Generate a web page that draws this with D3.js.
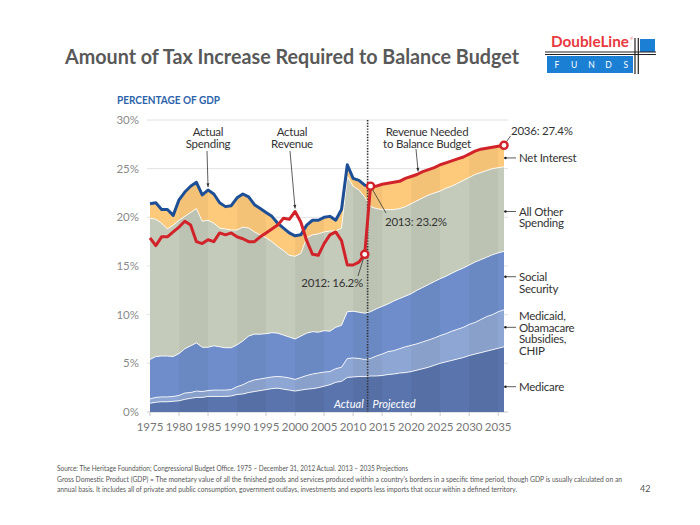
<!DOCTYPE html>
<html><head><meta charset="utf-8">
<script src="https://cdn.jsdelivr.net/npm/d3@7"></script>
<style>body{margin:0;background:#fff}svg{display:block}text{font-family:Lato,"Open Sans",sans-serif}</style>
</head><body><svg id="c" width="700" height="525"></svg>
<script>
// ---------- DATA (percent of GDP) ----------
const years = d3.range(1975, 2037); // 1975 .. 2036
const medicare = [0.9,1.0,1.05,1.05,1.1,1.15,1.3,1.4,1.5,1.5,
  1.6,1.6,1.6,1.6,1.65,1.8,1.85,2.0,2.1,2.2,
  2.3,2.4,2.45,2.35,2.25,2.15,2.25,2.35,2.4,2.5,
  2.65,2.8,3.05,3.15,3.55,3.6,3.65,3.65,3.7,3.7,
  3.75,3.85,3.9,4.0,4.05,4.15,4.3,4.45,4.6,4.8,
  5.0,5.15,5.3,5.45,5.6,5.8,5.95,6.1,6.25,6.4,
  6.55,6.7];
const medicaid = [0.45,0.5,0.5,0.5,0.5,0.55,0.65,0.6,0.65,0.6,
  0.6,0.65,0.65,0.65,0.65,0.8,0.95,1.1,1.2,1.2,
  1.2,1.2,1.2,1.25,1.25,1.2,1.3,1.4,1.5,1.5,
  1.45,1.35,1.4,1.45,1.95,1.95,1.85,1.75,1.8,2.05,
  2.2,2.35,2.4,2.5,2.65,2.7,2.7,2.75,2.8,2.8,
  2.85,2.9,3.0,3.05,3.1,3.2,3.25,3.4,3.55,3.6,
  3.75,3.8];
const socialSecurity = [4.05,4.2,4.2,4.2,4.1,4.3,4.55,4.8,4.95,4.55,
  4.45,4.55,4.45,4.35,4.3,4.3,4.5,4.7,4.7,4.6,
  4.55,4.55,4.45,4.3,4.2,4.15,4.25,4.35,4.35,4.2,
  4.25,4.15,4.25,4.3,4.8,4.8,4.75,4.75,4.8,4.85,
  4.9,4.9,5.1,5.15,5.2,5.3,5.5,5.6,5.7,5.8,
  5.85,5.9,5.95,6.05,6.1,6.1,6.2,6.15,6.1,6.15,
  6.05,6.0];
const allOther = [14.5,14.1,13.65,13.05,13.5,13.7,13.6,13.7,13.8,12.95,
  13.05,12.6,12.2,12.2,12.1,11.8,11.7,11.1,10.5,10.2,
  9.85,9.35,8.9,8.7,8.4,8.5,8.5,9.8,9.95,10.1,
  10.15,10.3,9.9,10.0,13.9,12.85,12.55,11.95,10.8,10.3,
  9.95,9.7,9.4,9.25,9.2,9.25,9.2,9.2,9.2,9.1,
  9.0,9.05,8.95,8.95,9.0,9.0,9.0,8.95,8.9,8.85,
  8.75,8.7];
const netInterest = [1.5,1.7,1.4,2.0,1.0,2.1,2.5,2.7,2.7,2.7,
  3.1,3.0,2.6,2.3,2.5,3.3,3.4,3.2,2.8,2.7,
  2.6,2.6,2.4,2.3,2.3,2.1,1.9,1.3,1.5,1.4,
  1.5,1.5,1.1,1.9,1.2,0.8,1.0,1.2,2.1,2.3,
  2.6,2.7,2.8,2.8,2.9,2.8,2.7,2.7,2.6,2.6,
  2.7,2.6,2.6,2.5,2.4,2.4,2.4,2.4,2.3,2.2,
  2.2,2.2];
const revenueYears = d3.range(1975, 2013); // actual revenue 1975 .. 2012
const actualRevenue = [17.9,17.1,18.0,18.0,18.5,19.0,19.6,19.2,17.5,17.3,
  17.7,17.5,18.4,18.2,18.4,18.0,17.8,17.5,17.5,18.0,
  18.4,18.8,19.2,19.9,19.8,20.6,19.5,17.6,16.2,16.1,
  17.3,18.2,18.5,17.6,15.1,15.1,15.4,16.2];
const yTicks = [0,5,10,15,20,25,30];
const xTicks = [1975,1980,1985,1990,1995,2000,2005,2010,2015,2020,2025,2030,2035];
const layerKeys = ["medicare","medicaid","socialSecurity","allOther","netInterest"];
const layerColors = ["#5a75ad","#8ea6d3","#6e8dca","#c4cbba","#fdca7c"];
const lastActualYear = 2012;

// ---------- SETUP ----------
const svg = d3.select("#c");
const x = d3.scaleLinear().domain([1975, 2036]).range([150, 504]);
const y = d3.scaleLinear().domain([0, 30]).range([412, 120]);

const rows = years.map((yr, i) => ({year: yr, medicare: medicare[i], medicaid: medicaid[i],
  socialSecurity: socialSecurity[i], allOther: allOther[i], netInterest: netInterest[i]}));
const stacked = d3.stack().keys(layerKeys)(rows);
const stackTop = stacked[stacked.length - 1];
const totalOf = yr => stackTop[years.indexOf(yr)][1];

// Title
svg.append("text").attr("x", 65).attr("y", 64).attr("font-size", 20).attr("font-weight", 700)
  .attr("fill", "#595959").attr("textLength", 454).attr("lengthAdjust", "spacingAndGlyphs")
  .text("Amount of Tax Increase Required to Balance Budget");

// Logo
const logo = svg.append("g");
logo.append("text").attr("x", 551).attr("y", 47).attr("font-size", 14.5).attr("font-weight", 700)
  .attr("fill", "#e8393f").attr("textLength", 78).attr("lengthAdjust", "spacingAndGlyphs").text("DoubleLine");
logo.append("text").attr("x", 630).attr("y", 40).attr("font-size", 4).attr("fill", "#e8393f").text("®");
logo.append("rect").attr("x", 547).attr("y", 56).attr("width", 86).attr("height", 17).attr("fill", "#1b7fd4");
logo.append("rect").attr("x", 640).attr("y", 39).attr("width", 15).attr("height", 13).attr("fill", "#1b7fd4");
logo.append("line").attr("x1", 545).attr("x2", 656).attr("y1", 52).attr("y2", 52).attr("stroke", "#222").attr("stroke-width", 1.2);
logo.append("line").attr("x1", 545).attr("x2", 656).attr("y1", 54.5).attr("y2", 54.5).attr("stroke", "#222").attr("stroke-width", 1.2);
logo.append("line").attr("x1", 635).attr("x2", 635).attr("y1", 38).attr("y2", 74).attr("stroke", "#222").attr("stroke-width", 1.2);
logo.append("line").attr("x1", 638.3).attr("x2", 638.3).attr("y1", 38).attr("y2", 74).attr("stroke", "#222").attr("stroke-width", 1.2);
["F","U","N","D","S"].forEach((ch, i) => {
  logo.append("text").attr("x", 557 + i * 17.2).attr("y", 68).attr("font-size", 8.5)
    .attr("fill", "#fff").attr("text-anchor", "middle").text(ch);
});

// Subtitle
svg.append("text").attr("x", 117).attr("y", 104).attr("font-size", 11).attr("font-weight", 700)
  .attr("fill", "#2c63aa").attr("textLength", 103).attr("lengthAdjust", "spacingAndGlyphs").text("PERCENTAGE OF GDP");

// Gridlines + y labels
const grid = svg.append("g");
yTicks.forEach(t => {
  grid.append("line").attr("x1", 147).attr("x2", 508).attr("y1", y(t)).attr("y2", y(t))
    .attr("stroke", t === 0 ? "#c8c8c8" : "#e2e2e2").attr("stroke-width", 1);
  grid.append("text").attr("x", 139).attr("y", y(t) + 4).attr("text-anchor", "end")
    .attr("font-size", 11.5).attr("fill", "#8a8a8a").text(t + "%");
});

// Stacked areas
const area = d3.area().x(d => x(d.data.year)).y0(d => y(d[0])).y1(d => y(d[1]));
svg.append("g").selectAll("path").data(stacked).join("path")
  .attr("d", area).attr("fill", (d, i) => layerColors[i]);

// Alternate 5-year stripes clipped to the stack
svg.append("clipPath").attr("id", "stackClip").append("path")
  .attr("d", d3.area().x(d => x(d.data.year)).y0(y(0)).y1(d => y(d[1]))(stackTop));
const stripes = svg.append("g").attr("clip-path", "url(#stackClip)");
[1980,1990,2000,2010,2020,2030].forEach(s => {
  stripes.append("rect").attr("x", x(s)).attr("width", x(s + 5) - x(s)).attr("y", y(30)).attr("height", y(0) - y(30))
    .attr("fill", "#000").attr("opacity", 0.035);
});

// White boundaries between layers
const boundary = d3.line().x(d => x(d.data.year)).y(d => y(d[1]));
svg.append("g").selectAll("path").data(stacked.slice(0, 4)).join("path")
  .attr("d", boundary).attr("fill", "none").attr("stroke", "#fff").attr("stroke-width", 1)
  .attr("stroke-opacity", 0.85);

// x axis ticks + labels
const xa = svg.append("g");
xTicks.forEach(t => {
  xa.append("line").attr("x1", x(t)).attr("x2", x(t)).attr("y1", y(0)).attr("y2", y(0) + 4).attr("stroke", "#c8c8c8");
  xa.append("text").attr("x", x(t)).attr("y", 431).attr("text-anchor", "middle")
    .attr("font-size", 11.5).attr("fill", "#777").text(t);
});

// Actual / Projected
svg.append("text").attr("x", x(lastActualYear + 0.5) - 4).attr("y", 408).attr("text-anchor", "end")
  .attr("font-size", 11).attr("font-style", "italic").attr("fill", "#fff").text("Actual");
svg.append("text").attr("x", x(lastActualYear + 0.5) + 5).attr("y", 408)
  .attr("font-size", 11).attr("font-style", "italic").attr("fill", "#fff").text("Projected");

// Dotted divider
svg.append("line").attr("x1", x(lastActualYear + 0.5)).attr("x2", x(lastActualYear + 0.5))
  .attr("y1", y(30)).attr("y2", y(0)).attr("stroke", "#333").attr("stroke-width", 1.6)
  .attr("stroke-dasharray", "1.4,1.4");

// Lines
const lineGen = d3.line().x(d => x(d[0])).y(d => y(d[1]));
const spendPts = years.filter(yr => yr <= lastActualYear + 1).map(yr => [yr, totalOf(yr)]);
const redPts = revenueYears.map((yr, i) => [yr, actualRevenue[i]])
  .concat(years.filter(yr => yr > lastActualYear).map(yr => [yr, totalOf(yr)]));
svg.append("path").attr("d", lineGen(spendPts)).attr("fill", "none").attr("stroke", "#1d4f97")
  .attr("stroke-width", 3).attr("stroke-linejoin", "round");
svg.append("path").attr("d", lineGen(redPts)).attr("fill", "none").attr("stroke", "#d2232a")
  .attr("stroke-width", 3).attr("stroke-linejoin", "round");

// Annotation leaders
const ann = svg.append("g").attr("stroke", "#333").attr("stroke-width", 0.8).attr("fill", "none");
function arrow(x1, y1, x2, y2) {
  ann.append("line").attr("x1", x1).attr("y1", y1).attr("x2", x2).attr("y2", y2);
  const a = Math.atan2(y2 - y1, x2 - x1), L = 4;
  const p = [[x2, y2], [x2 - L * Math.cos(a - 0.4), y2 - L * Math.sin(a - 0.4)], [x2 - L * Math.cos(a + 0.4), y2 - L * Math.sin(a + 0.4)]];
  svg.append("path").attr("d", "M" + p.join("L") + "Z").attr("fill", "#333");
}
arrow(207, 151, x(1985), y(totalOf(1985)) - 3);
arrow(290, 151, x(2000), y(actualRevenue[25]) - 3);
arrow(416, 149, x(2021.2), y(totalOf(2021)) - 3);
ann.append("line").attr("x1", x(2013)).attr("y1", y(totalOf(2013))).attr("x2", 386).attr("y2", 213);
ann.append("line").attr("x1", x(2012)).attr("y1", y(actualRevenue[37])).attr("x2", 358).attr("y2", 276);
ann.append("line").attr("x1", x(2036)).attr("y1", y(totalOf(2036))).attr("x2", 510.5).attr("y2", 136);

// Circles
[[2012, actualRevenue[37]], [2013, totalOf(2013)], [2036, totalOf(2036)]].forEach(p => {
  svg.append("circle").attr("cx", x(p[0])).attr("cy", y(p[1])).attr("r", 3.6)
    .attr("fill", "#fff").attr("stroke", "#d2232a").attr("stroke-width", 2.4);
});

// Text annotations
function txt(lines, xx, yy, anchor, lh) {
  lines.forEach((l, i) => svg.append("text").attr("x", xx).attr("y", yy + i * (lh || 11.8))
    .attr("text-anchor", anchor).attr("font-size", 11.5).attr("letter-spacing", -0.25)
    .attr("fill", "#333").text(l));
}
txt(["Actual", "Spending"], 208, 136, "middle");
txt(["Actual", "Revenue"], 292, 136, "middle");
txt(["Revenue Needed", "to Balance Budget"], 427, 136, "middle");
txt(["2036: 27.4%"], 511, 135, "start");
txt(["2013: 23.2%"], 385, 226, "start");
txt(["2012: 16.2%"], 363, 287, "end");

// Right-side legend labels
const legend = [
  {lines: ["Net Interest"], at: 26.1, first: 0},
  {lines: ["All Other", "Spending"], at: 20.6, first: 0},
  {lines: ["Social", "Security"], at: 13.9, first: 0},
  {lines: ["Medicaid,", "Obamacare", "Subsidies,", "CHIP"], at: 8.7, first: 1},
  {lines: ["Medicare"], at: 2.6, first: 0}
];
legend.forEach(l => {
  const yy = y(l.at);
  svg.append("line").attr("x1", 504).attr("x2", 516).attr("y1", yy).attr("y2", yy).attr("stroke", "#333").attr("stroke-width", 0.8);
  svg.append("circle").attr("cx", 505.5).attr("cy", yy).attr("r", 1.2).attr("fill", "#222");
  txt(l.lines, 519, yy + 4.5 - l.first * 11.5, "start", 11.5);
});

// Footnotes
const fn = [
  ["Source: The Heritage Foundation; Congressional Budget Office. 1975 – December 31, 2012 Actual. 2013 – 2035 Projections", 471, 351],
  ["Gross Domestic Product (GDP) = The monetary value of all the finished goods and services produced within a country's borders in a specific time period, though GDP is usually calculated on an", 481.5, 565],
  ["annual basis. It includes all of private and public consumption, government outlays, investments and exports less imports that occur within a defined territory.", 492, 460]
];
fn.forEach(f => svg.append("text").attr("x", 57).attr("y", f[1]).attr("font-size", 7).attr("fill", "#555")
  .attr("textLength", f[2]).attr("lengthAdjust", "spacingAndGlyphs").text(f[0]));
svg.append("text").attr("x", 640).attr("y", 492).attr("font-size", 9).attr("fill", "#555").text("42");
</script></body></html>
